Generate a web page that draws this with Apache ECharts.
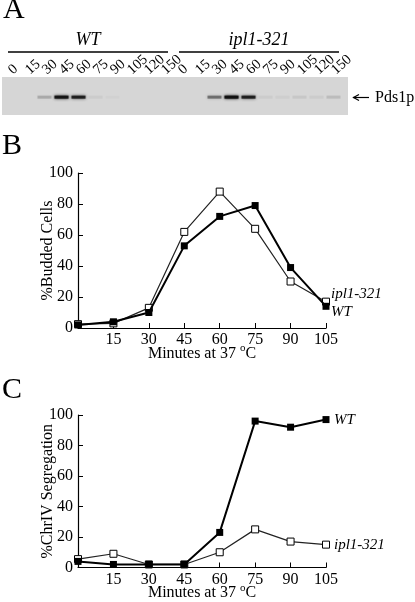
<!DOCTYPE html>
<html><head><meta charset="utf-8">
<script src="https://cdn.jsdelivr.net/npm/echarts@6/dist/echarts.min.js"></script>
<style>html,body{margin:0;padding:0;background:#fff}#c{width:415px;height:602px}</style>
</head><body><div id="c"></div>
<script>
const minutes = [0, 15, 30, 45, 60, 75, 90, 105];
const buddedWT = [2, 4, 10, 53, 72, 79, 39, 14];
const buddedIpl = [2.5, 3, 13, 62, 88, 64, 30, 17];
const segWT = [4, 2, 2, 2, 23, 96, 92, 97];
const segIpl = [5.5, 9, 2, 2, 10, 25, 17, 15];
const laneLabels = ['0','15','30','45','60','75','90','105','120','150','0','15','30','45','60','75','90','105','120','150'];
const bandWT = [0, 0, 0.2, 0.95, 0.85, 0.05, 0.02, 0, 0, 0];
const bandIpl = [0, 0, 0.45, 1, 0.85, 0.05, 0.04, 0.07, 0.05, 0.12];
const xTicks = [15, 30, 45, 60, 75, 90, 105];

const FONT = 'Liberation Serif';
const bands = bandWT.concat(bandIpl);

function pairs(ys) { return minutes.map((m, i) => [m, ys[i]]); }

const baseX = (gi) => ({
  gridIndex: gi, type: 'value', min: 0, max: 105, interval: 15,
  name: 'Minutes at 37 {s|o}C', nameLocation: 'middle', nameGap: 15, nameMoveOverlap: false,
  nameTextStyle: { fontFamily: FONT, fontSize: 16, color: '#000',
    rich: { s: { fontFamily: FONT, fontSize: 11, color: '#000', padding: [0, 0, 10, 0] } } },
  axisLine: { lineStyle: { color: '#000', width: 1.2 } },
  axisTick: { inside: true, length: 5, lineStyle: { color: '#000', width: 1 } },
  axisLabel: { fontFamily: FONT, fontSize: 16, color: '#000', margin: 4,
    formatter: v => (xTicks.indexOf(v) >= 0 ? String(v) : '') },
  splitLine: { show: false }
});
const baseY = (gi, name) => ({
  gridIndex: gi, type: 'value', min: 0, max: 100, interval: 20,
  name: name, nameLocation: 'middle', nameGap: 22, nameRotate: 90, nameMoveOverlap: false,
  nameTextStyle: { fontFamily: FONT, fontSize: 16, color: '#000' },
  axisLine: { show: true, lineStyle: { color: '#000', width: 1.2 } },
  axisTick: { show: true, inside: true, length: 5, lineStyle: { color: '#000', width: 1 } },
  axisLabel: { fontFamily: FONT, fontSize: 16, color: '#000', margin: 5 },
  splitLine: { show: false }
});

const wtStyle = (xi, data, off, dist) => ({
  type: 'line', xAxisIndex: xi, yAxisIndex: xi, data: data, z: 5,
  symbol: 'rect', symbolSize: 7, showAllSymbol: true,
  lineStyle: { color: '#000', width: 2 },
  itemStyle: { color: '#000' },
  endLabel: { show: true, formatter: 'WT', fontFamily: FONT, fontStyle: 'italic', fontSize: 15, color: '#000', offset: off, distance: dist },
  animation: false
});
const iplStyle = (xi, data, off, dist) => ({
  type: 'line', xAxisIndex: xi, yAxisIndex: xi, data: data, z: 4,
  symbol: 'rect', symbolSize: 7, showAllSymbol: true,
  lineStyle: { color: '#222', width: 1.2 },
  itemStyle: { color: '#fff', borderColor: '#000', borderWidth: 1 },
  endLabel: { show: true, formatter: 'ipl1-321', fontFamily: FONT, fontStyle: 'italic', fontSize: 15, color: '#000', offset: off, distance: dist },
  animation: false
});

const chart = echarts.init(document.getElementById('c'), null, { renderer: 'canvas' });
chart.setOption({
  backgroundColor: '#fff',
  animation: false,
  grid: [
    { left: 2, top: 77, width: 346, height: 38, show: true, backgroundColor: '#d6d6d6', borderWidth: 0 },
    { left: 2, top: 77, width: 340, height: 38, show: false },
    { left: 78, top: 173, width: 248, height: 155 },
    { left: 78, top: 415, width: 248, height: 155 }
  ],
  xAxis: [
    { gridIndex: 0, type: 'value', show: false, min: 0, max: 1 },
    { gridIndex: 1, type: 'category', data: laneLabels, position: 'top',
      axisLine: { show: false }, axisTick: { show: false },
      axisLabel: { interval: 0, rotate: 42, margin: 5, fontFamily: FONT, fontSize: 14.5, color: '#000' } },
    baseX(2),
    baseX(3)
  ],
  yAxis: [
    { gridIndex: 0, type: 'value', show: false, min: 0, max: 1 },
    { gridIndex: 1, type: 'value', show: false, min: 0, max: 1 },
    baseY(2, '%Budded Cells'),
    baseY(3, '%ChrIV Segregation')
  ],
  series: [
    { type: 'scatter', xAxisIndex: 1, yAxisIndex: 1, symbol: 'rect', symbolSize: [14, 3],
      silent: true, animation: false,
      data: bands.map((b, i) => ({ value: [i, 0.47],
        itemStyle: { color: '#111', opacity: b, shadowBlur: 3, shadowColor: 'rgba(0,0,0,' + b + ')' } })) },
    iplStyle(2, pairs(buddedIpl), [0, -7.5], 5),
    wtStyle(2, pairs(buddedWT), [0, 6], 5),
    iplStyle(3, pairs(segIpl), [0, 0], 8),
    wtStyle(3, pairs(segWT), [0, 0], 8)
  ],
  graphic: [
    { type: 'text', left: 3, top: -5, style: { text: 'A', font: '30px "Liberation Serif"', fill: '#000' } },
    { type: 'text', left: 2, top: 131, style: { text: 'B', font: '30px "Liberation Serif"', fill: '#000' } },
    { type: 'text', left: 2, top: 375, style: { text: 'C', font: '30px "Liberation Serif"', fill: '#000' } },
    { type: 'text', x: 88, y: 40, style: { text: 'WT', font: 'italic 18px "Liberation Serif"', fill: '#000', textAlign: 'center', textVerticalAlign: 'middle' } },
    { type: 'text', x: 259, y: 40, style: { text: 'ipl1-321', font: 'italic 18px "Liberation Serif"', fill: '#000', textAlign: 'center', textVerticalAlign: 'middle' } },
    { type: 'line', shape: { x1: 8, y1: 52, x2: 168, y2: 52 }, style: { stroke: '#000', lineWidth: 1.6 } },
    { type: 'line', shape: { x1: 179, y1: 52, x2: 339, y2: 52 }, style: { stroke: '#000', lineWidth: 1.6 } },
    { type: 'line', shape: { x1: 353, y1: 97.5, x2: 369, y2: 97.5 }, style: { stroke: '#000', lineWidth: 1.2 } },
    { type: 'polyline', shape: { points: [[359, 94.5], [353.5, 97.5], [359, 100.5]] }, style: { stroke: '#000', lineWidth: 1.2, fill: null } },
    { type: 'text', x: 375, y: 97.5, style: { text: 'Pds1p', font: '16px "Liberation Serif"', fill: '#000', textVerticalAlign: 'middle' } }
  ]
});
</script></body></html>
